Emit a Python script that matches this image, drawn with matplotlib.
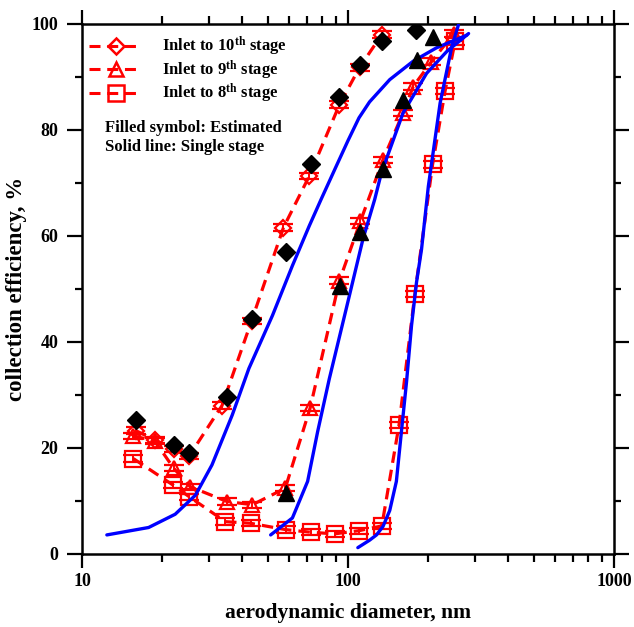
import matplotlib
matplotlib.use("Agg")
import matplotlib.pyplot as plt
from matplotlib.lines import Line2D

plt.rcParams['font.family'] = ['Liberation Serif', 'DejaVu Serif']
plt.rcParams['font.weight'] = 'bold'
plt.rcParams['mathtext.fontset'] = 'custom'
plt.rcParams['mathtext.rm'] = 'Liberation Serif:bold'
plt.rcParams['mathtext.bf'] = 'Liberation Serif:bold'
plt.rcParams['mathtext.it'] = 'Liberation Serif:bold'
plt.rcParams['mathtext.default'] = 'bf'

# ---- data ----
labels = ["Inlet to 10$^{th}$ stage", "Inlet to 9$^{th}$ stage", "Inlet to 8$^{th}$ stage"]

d10_x = [15.9, 18.8, 22.1, 25.3, 33.6, 43.4, 57.2, 71.5, 92.9, 110.5, 134.0]
d10_y = [23.3, 21.5, 19.8, 18.5, 28.0, 44.0, 61.6, 71.3, 84.8, 91.8, 98.0]

d9_x = [15.6, 18.8, 22.1, 25.5, 35.1, 43.7, 58.1, 72.1, 92.9, 111.4, 135.4, 161.0, 175.8, 206.0, 250.0]
d9_y = [22.3, 21.3, 16.2, 12.7, 9.9, 9.3, 12.4, 27.6, 51.6, 62.8, 74.4, 83.2, 88.2, 92.9, 98.2]

d8_x = [15.6, 22.0, 25.3, 34.6, 43.0, 58.3, 72.6, 89.0, 110.0, 134.0, 155.5, 178.4, 208.0, 231.6, 252.7]
d8_y = [18.0, 13.0, 10.8, 6.1, 5.8, 4.6, 4.1, 3.8, 4.4, 5.3, 24.3, 49.1, 73.5, 87.3, 96.7]

est10_x = [15.9, 22.1, 25.3, 35.1, 43.4, 58.3, 72.6, 92.9, 110.5, 134.6, 180.0]
est10_y = [25.2, 20.5, 19.0, 29.6, 44.4, 56.9, 73.5, 86.3, 92.2, 96.7, 98.9]

est9_x = [58.3, 93.0, 111.4, 135.4, 161.0, 181.0, 208.0]
est9_y = [11.5, 50.6, 60.7, 72.6, 85.7, 93.2, 97.6]

single10_x = [12.4, 17.8, 22.4, 26.7, 30.8, 36.7, 42.4, 52.0, 61.8, 71.5, 79.2, 90.0, 100.0, 110.0, 120.5, 143.5, 176.0, 215.0, 280.0]
single10_y = [3.6, 5.0, 7.5, 11.1, 16.8, 26.2, 35.0, 45.0, 54.4, 61.9, 66.9, 73.0, 78.0, 82.3, 85.3, 89.5, 93.0, 95.5, 97.9]

single9_x = [51.2, 61.8, 70.5, 76.9, 85.1, 98.4, 113.8, 126.0, 133.5, 161.0, 197.5, 235.0, 284.0]
single9_y = [3.6, 6.8, 13.7, 23.1, 33.1, 46.2, 59.4, 66.9, 71.9, 83.2, 90.7, 94.8, 98.2]

single8_x = [108.9, 120.5, 128.0, 135.4, 143.5, 152.0, 158.8, 166.0, 173.3, 181.0, 189.0, 200.5, 222.0, 245.5, 260.0]
single8_y = [1.2, 2.6, 3.6, 5.2, 8.2, 13.7, 23.1, 32.5, 43.1, 51.3, 57.5, 69.4, 85.1, 95.7, 99.8]

err = 0.6

x_ticks = [10, 100, 1000]
x_ticklabels = ["10", "100", "1000"]
y_ticks = [0, 20, 40, 60, 80, 100]

# ---- figure ----
fig = plt.figure(figsize=(6.34, 6.27), dpi=100)
W, H = 634, 627
L, R, T, B = 82, 614, 24, 554
ax = fig.add_axes([L / W, 1 - B / H, (R - L) / W, (B - T) / H])

red = '#ff0000'
blue = '#0000ff'
dash = (0, (3.6, 2.2))

# blue single-stage lines
for xs, ys in [(single10_x, single10_y), (single9_x, single9_y), (single8_x, single8_y)]:
    ax.plot(xs, ys, color=blue, lw=2.4, zorder=4, solid_capstyle='round', solid_joinstyle='round')

# red dashed lines + open markers + error bars
series = [(d10_x, d10_y, 'D', 8), (d9_x, d9_y, '^', 10), (d8_x, d8_y, 's', 11)]
for xs, ys, mk, ms in series:
    ax.plot(xs, ys, color=red, lw=2.3, ls=dash, zorder=3)
    ax.errorbar(xs, ys, yerr=err, fmt=mk, ms=ms, mfc='none', mec=red, mew=1.6,
                ecolor=red, elinewidth=1.4, capsize=7, capthick=1.6, zorder=3)

# filled estimated symbols
ax.plot(est10_x, est10_y, 'D', color='black', ms=9.5, ls='none', zorder=6)
ax.plot(est9_x, est9_y, '^', color='black', ms=11, ls='none', zorder=6)

ax.set_xscale('log')
ax.set_xlim(10, 1000)
ax.set_ylim(0, 100)
ax.set_xticks(x_ticks)
ax.set_xticklabels(x_ticklabels)
ax.set_yticks(y_ticks)
ax.set_yticks([10, 30, 50, 70, 90], minor=True)
for sp in ax.spines.values():
    sp.set_linewidth(1.8)

ax.tick_params(axis='x', which='major', direction='out', length=10, width=1.6, pad=4, labelsize=13,
               top=True, bottom=True)
ax.tick_params(axis='x', which='minor', direction='out', length=6, width=1.6, top=True, bottom=True)
ax.tick_params(axis='y', which='major', direction='out', length=11, width=1.6, pad=6, labelsize=13,
               left=True, right=True)
ax.tick_params(axis='y', which='minor', direction='out', length=5, width=1.6, left=True, right=True)
for lab in ax.get_xticklabels() + ax.get_yticklabels():
    lab.set_fontweight('bold')

ax.set_xlabel("aerodynamic diameter, nm", fontsize=15.5, fontweight='bold', labelpad=9)
ax.set_ylabel("collection efficiency, %", fontsize=16.5, fontweight='bold', labelpad=3)

# legend
handles = [Line2D([], [], color=red, lw=2.2, ls=dash, marker=mk, ms=ms, mfc='none', mec=red, mew=1.8)
           for _, _, mk, ms in series]
leg = ax.legend(handles, labels, loc='upper left', bbox_to_anchor=(-0.007, 1.0), frameon=False,
                handlelength=3.2, handletextpad=1.2, labelspacing=0.02,
                borderaxespad=0.25, prop={'weight': 'bold', 'size': 12})

ax.text((105 - L) / (R - L), 1 - (128 - T) / (B - T), "Filled symbol: Estimated",
        transform=ax.transAxes, fontsize=12, fontweight='bold', va='center', ha='left')
ax.text((105 - L) / (R - L), 1 - (147 - T) / (B - T), "Solid line: Single stage",
        transform=ax.transAxes, fontsize=12, fontweight='bold', va='center', ha='left')

fig.savefig("out.png", dpi=100)
